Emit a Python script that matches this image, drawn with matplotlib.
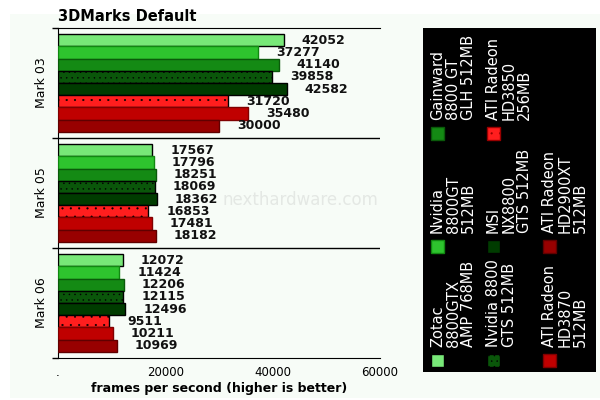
import numpy as np
import matplotlib.pyplot as plt
from matplotlib.patches import Rectangle

# dati
tests = ["Mark 03", "Mark 05", "Mark 06"]
cards = ["Zotac\n8800GTX\nAMP 768MB", "Nvidia\n8800GT\n512MB", "Gainward\n8800 GT\nGLH 512MB",
         "Nvidia 8800\nGTS 512MB", "MSI\nNX8800\nGTS 512MB", "ATI Radeon\nHD3850\n256MB",
         "ATI Radeon\nHD3870\n512MB", "ATI Radeon\nHD2900XT\n512MB"]
mark03 = [42052, 37277, 41140, 39858, 42582, 31720, 35480, 30000]
mark05 = [17567, 17796, 18251, 18069, 18362, 16853, 17481, 18182]
mark06 = [12072, 11424, 12206, 12115, 12496, 9511, 10211, 10969]
xticks = [0, 20000, 40000, 60000]
xticklabels = [".", "20000", "40000", "60000"]

colors = ["#78e878", "#2ec42e", "#148a14", "#0a560a", "#003c00", "#ff1e1e", "#c00000", "#980000"]
edges = ["#000000", "#118811", "#0a5a0a", "#000000", "#000000", "#990000", "#800000", "#600000"]
hatches = [None, None, None, "...", None, "..", None, None]

plt.rcParams['hatch.linewidth'] = 0.3
fig = plt.figure(figsize=(6, 4), dpi=100)
fig.patch.set_facecolor("white")
# pannello chiaro di sfondo
fig.patches.append(Rectangle((10/600, 2/400), 590/600, 384/400, transform=fig.transFigure,
                             facecolor="#f7fcf7", edgecolor="none", zorder=-1))

ax = fig.add_axes([58/600, 42/400, 322/600, 330/400])
ax.set_facecolor("#f7fcf7")

data = [mark03, mark05, mark06]
pad = 0.055
slot = (1 - 2*pad) / len(cards)
for i, vals in enumerate(data):
    for j, v in enumerate(vals):
        y = i + pad + (j + 0.5)*slot
        ax.barh(y, v, height=slot, color=colors[j], edgecolor=edges[j] if hatches[j] is None else "#000000",
                linewidth=1, hatch=hatches[j], zorder=3)
        ax.annotate(str(v), (v, y), xytext=(13, 0), textcoords="offset points",
                    ha="left", va="center", fontsize=9, fontweight="bold", color="#111111")

ax.set_xlim(0, 60000)
ax.set_ylim(3, 0)
ax.set_xticks(xticks)
ax.set_xticklabels(xticklabels, fontsize=8.5)
ax.tick_params(axis="x", length=0, pad=6)
ax.set_yticks([0.5, 1.5, 2.5])
ax.set_yticklabels(tests, rotation=90, va="center", fontsize=9)
ax.tick_params(axis="y", which="major", length=0, pad=7)
ax.set_yticks([0, 1, 2, 3], minor=True)
ax.tick_params(axis="y", which="minor", length=4, width=1)
for b in [1, 2]:
    ax.axhline(b, color="black", linewidth=1, zorder=2)
ax.spines["right"].set_visible(False)
ax.set_xlabel("frames per second (higher is better)", fontsize=9, fontweight="bold", labelpad=2)

fig.text(58/600, 1 - 16.5/400, "3DMarks Default", fontsize=10.5, fontweight="bold", va="center", ha="left")
fig.text(300/600, 1 - 200/400, "nexthardware.com", fontsize=12, color="#e4e8e4", ha="center", va="center")

# legenda ruotata
lg = fig.add_axes([423/600, 28/400, 173/600, 344/400])
lg.set_xlim(423, 596)
lg.set_ylim(372, 28)
lg.set_facecolor("black")
lg.set_xticks([])
lg.set_yticks([])
for s in lg.spines.values():
    s.set_visible(False)
cols_x = [431, 487, 543]
rows_y = [360, 246, 133]
order = [(0, 0), (0, 1), (0, 2), (1, 0), (1, 1), (1, 2), (2, 0), (2, 1)]
for j, (c, r) in enumerate(order):
    x0 = cols_x[c]
    y0 = rows_y[r]
    lg.add_patch(Rectangle((x0, y0 - 6.5), 13, 13, facecolor=colors[j], edgecolor=edges[j],
                           hatch=hatches[j], linewidth=1))
    lg.text(x0 - 1, y0 - 13, cards[j], rotation=90, color="white", fontsize=10.5,
            ha="left", va="bottom", linespacing=1.05)

plt.savefig("out.png", dpi=100)
